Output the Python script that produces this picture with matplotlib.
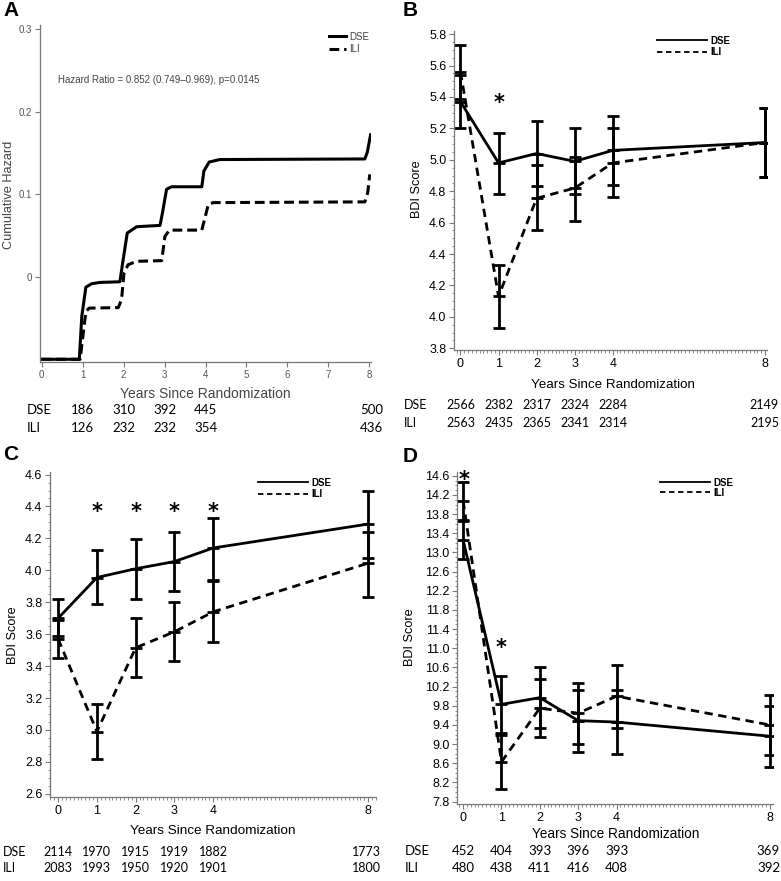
import numpy as np
import matplotlib
matplotlib.use('Agg')
import matplotlib.pyplot as plt
from matplotlib.lines import Line2D
from matplotlib.ticker import MultipleLocator, FixedLocator, AutoMinorLocator, FormatStrFormatter

# ---------------- data ----------------
years = [0, 1, 2, 3, 4, 8]

# Panel A: cumulative hazard curves
hazA_dse_x = [0, 0.92, 0.98, 1.08, 1.22, 1.42, 1.91, 1.99, 2.09, 2.32, 2.89, 2.95, 3.05, 3.17,
              3.91, 3.96, 4.09, 4.35, 7.89, 7.95, 8.03]
hazA_dse_y = [-0.100, -0.100, -0.048, -0.0126, -0.0085, -0.0069, -0.0061, 0.0207, 0.053, 0.0606,
              0.0622, 0.0776, 0.106, 0.109, 0.109, 0.128, 0.139, 0.142, 0.1427, 0.151, 0.172]
hazA_ili_x = [0, 0.94, 1.08, 1.16, 1.87, 1.95, 2.01, 2.11, 2.32, 2.93, 3.01, 3.12, 3.91, 4.07,
              4.19, 7.89, 7.96, 8.01]
hazA_ili_y = [-0.100, -0.100, -0.042, -0.038, -0.0374, -0.028, 0.0045, 0.0146, 0.0187, 0.0195,
              0.049, 0.0565, 0.0565, 0.0878, 0.0898, 0.0907, 0.102, 0.124]
hazA_ticks = [0, 0.1, 0.2, 0.3]
hazA_ticklabels = ['0', '0.1', '0.2', '0.3']
hazA_text = 'Hazard Ratio = 0.852 (0.749\u20130.969), p=0.0145'

riskA_years = [1, 2, 3, 4, 8]
riskA_dse = [186, 310, 392, 445, 500]
riskA_ili = [126, 232, 232, 354, 436]

# Panel B
dse_B = [5.37, 4.98, 5.04, 4.99, 5.06, 5.11]
dse_B_lo = [5.20, 4.78, 4.83, 4.78, 4.84, 4.89]
dse_B_hi = [5.54, 5.17, 5.25, 5.20, 5.28, 5.33]
ili_B = [5.56, 4.13, 4.755, 4.82, 4.98, 5.11]
ili_B_lo = [5.39, 3.93, 4.55, 4.61, 4.76, 4.89]
ili_B_hi = [5.73, 4.33, 4.97, 5.02, 5.20, 5.33]
star_B_x = [1]
star_B_y = [5.39]
riskB_dse = [2566, 2382, 2317, 2324, 2284, 2149]
riskB_ili = [2563, 2435, 2365, 2341, 2314, 2195]

# Panel C
dse_C = [3.70, 3.955, 4.01, 4.055, 4.14, 4.29]
dse_C_lo = [3.59, 3.79, 3.82, 3.87, 3.94, 4.08]
dse_C_hi = [3.82, 4.125, 4.195, 4.24, 4.33, 4.495]
ili_C = [3.57, 2.99, 3.515, 3.615, 3.74, 4.045]
ili_C_lo = [3.45, 2.82, 3.33, 3.43, 3.55, 3.835]
ili_C_hi = [3.69, 3.16, 3.70, 3.80, 3.935, 4.24]
star_C_x = [1, 2, 3, 4]
star_C_y = [4.39, 4.39, 4.39, 4.39]
riskC_dse = [2114, 1970, 1915, 1919, 1882, 1773]
riskC_ili = [2083, 1993, 1950, 1920, 1901, 1800]

# Panel D
dse_D = [13.26, 9.83, 9.97, 9.49, 9.46, 9.165]
dse_D_lo = [12.86, 9.23, 9.33, 8.84, 8.80, 8.53]
dse_D_hi = [13.66, 10.42, 10.61, 10.14, 10.14, 9.80]
ili_D = [14.08, 8.63, 9.75, 9.645, 10.0, 9.40]
ili_D_lo = [13.68, 8.07, 9.14, 9.01, 9.34, 8.78]
ili_D_hi = [14.48, 9.19, 10.35, 10.28, 10.66, 10.03]
star_D_x = [0.03, 1]
star_D_y = [14.6, 11.1]
riskD_dse = [452, 404, 393, 396, 393, 369]
riskD_ili = [480, 438, 411, 416, 408, 392]

ticks_B = [3.8, 4.0, 4.2, 4.4, 4.6, 4.8, 5.0, 5.2, 5.4, 5.6, 5.8]
ticks_C = [2.6, 2.8, 3.0, 3.2, 3.4, 3.6, 3.8, 4.0, 4.2, 4.4, 4.6]
ticks_D = [7.8, 8.2, 8.6, 9.0, 9.4, 9.8, 10.2, 10.6, 11.0, 11.4, 11.8, 12.2, 12.6, 13.0,
           13.4, 13.8, 14.2, 14.6]

groups = ['DSE', 'ILI']
xlabel = 'Years Since Randomization'

# ---------------- layout helpers ----------------
W, H = 781, 881
fig = plt.figure(figsize=(W / 100, H / 100), dpi=100)
plt.rcParams['font.family'] = ['Liberation Sans', 'DejaVu Sans']
RISKFONT = ['Lato', 'DejaVu Sans']


def ax_at(l, t, r, b):
    return fig.add_axes([l / W, 1 - b / H, (r - l) / W, (b - t) / H])


def ftext(x, y, s, **kw):
    return fig.text(x / W, 1 - y / H, s, **kw)


def style_axis(ax, color, labelcolor, fs):
    for s in ['top', 'right']:
        ax.spines[s].set_visible(False)
    for s in ['left', 'bottom']:
        ax.spines[s].set_color(color)
        ax.spines[s].set_linewidth(0.9)
    ax.tick_params(which='major', direction='out', length=3.5, width=0.8, color=color,
                   labelcolor=labelcolor, labelsize=fs, pad=2)
    ax.tick_params(which='minor', direction='out', length=1.8, width=0.6, color=color)


# ---------------- Panel A ----------------
axA = ax_at(40, 25, 371, 362)
axA.plot(hazA_dse_x, hazA_dse_y, color='black', lw=2.2, solid_joinstyle='round')
axA.plot(hazA_ili_x, hazA_ili_y, color='black', lw=2.2, dashes=(3.2, 1.6))
axA.set_xlim(-0.04, 8.04)
axA.set_ylim(-0.1033, 0.305)
axA.xaxis.set_major_locator(MultipleLocator(1))
axA.yaxis.set_major_locator(FixedLocator(hazA_ticks))
axA.set_yticklabels(hazA_ticklabels)
style_axis(axA, '#777777', '#555555', 7)
axA.text(0.053, 0.836, hazA_text, transform=axA.transAxes, fontsize=7, color='#444444',
         va='center', ha='left')
legA = [Line2D([0], [0], color='black', lw=2.2),
        Line2D([0], [0], color='black', lw=2.2, dashes=(3.2, 1.6))]
axA.legend(legA, groups, loc='upper left', bbox_to_anchor=((324 - 40) / 331, 1.0 - (27 - 25) / 337),
           frameon=False, fontsize=7, handlelength=1.8, handletextpad=0.3, labelspacing=0.25,
           borderpad=0, labelcolor='#444444')
ftext(9, 195, 'Cumulative Hazard', rotation=90, ha='center', va='center', fontsize=9.2, color='#444444')
ftext(205, 394, xlabel, ha='center', va='center', fontsize=10, color='#444444')

ftext(3, 10, 'A', fontsize=15, fontweight='bold', ha='left', va='center')
ftext(403, 10, 'B', fontsize=15, fontweight='bold', ha='left', va='center')
ftext(3, 454, 'C', fontsize=15, fontweight='bold', ha='left', va='center')
ftext(403, 457, 'D', fontsize=15, fontweight='bold', ha='left', va='center')


def risk_table(ax, xs, dse, ili, y1, y2, xlab, fs, right_edge):
    ftext(xlab, y1, 'DSE', fontsize=fs, family=RISKFONT, ha='left', va='center')
    ftext(xlab, y2, 'ILI', fontsize=fs, family=RISKFONT, ha='left', va='center')
    for x, a, b in zip(xs, dse, ili):
        px = ax.transData.transform((x, 0))[0] / fig.dpi * 100
        ha = 'center'
        if x == 8:
            ha = 'right'
            px = right_edge
        ftext(px, y1, str(a), fontsize=fs, family=RISKFONT, ha=ha, va='center')
        ftext(px, y2, str(b), fontsize=fs, family=RISKFONT, ha=ha, va='center')


fig.canvas.draw()
risk_table(axA, riskA_years, riskA_dse, riskA_ili, 410, 428, 27, 9.5, 383)


# ---------------- Panels B, C, D ----------------
def bdi_panel(ax, dse, dlo, dhi, ili, ilo, ihi, sx, sy, ylim, xlim, yticks):
    ax.plot(years, ili, color='black', lw=2, dashes=(3, 2))
    ax.plot(years, dse, color='black', lw=2)
    for m, lo, hi in [(dse, dlo, dhi), (ili, ilo, ihi)]:
        m = np.asarray(m)
        err = [m - np.asarray(lo), np.asarray(hi) - m]
        ax.errorbar(years, m, yerr=err, fmt='none', ecolor='black', elinewidth=2,
                    capsize=4.3, capthick=2)
        ax.plot(years, m, ls='none', marker='_', ms=8.6, mew=2, color='black')
    for x, y in zip(sx, sy):
        ax.annotate('*', (x, y), xytext=(0, -3), textcoords='offset points', fontsize=15,
                    fontweight='bold', ha='center', va='center', family='DejaVu Sans')
    ax.set_xlim(*xlim)
    ax.set_ylim(*ylim)
    ax.xaxis.set_major_locator(FixedLocator(years))
    ax.xaxis.set_minor_locator(MultipleLocator(0.1))
    ax.yaxis.set_major_locator(FixedLocator(yticks))
    ax.yaxis.set_minor_locator(AutoMinorLocator(4))
    ax.yaxis.set_major_formatter(FormatStrFormatter('%.1f'))
    style_axis(ax, '#777777', 'black', 9)
    leg = [Line2D([0], [0], color='black', lw=1.3),
           Line2D([0], [0], color='black', lw=1.3, dashes=(3, 2))]
    return leg


axB = ax_at(454, 31, 767, 350)
legB = bdi_panel(axB, dse_B, dse_B_lo, dse_B_hi, ili_B, ili_B_lo, ili_B_hi, star_B_x, star_B_y,
                 (3.789, 5.82), (-0.17, 8.05), ticks_B)
axB.legend(legB, groups, loc='upper left', bbox_to_anchor=((652 - 454) / 313, 1.0),
           frameon=False, prop={'weight': 'bold', 'size': 7}, handlelength=5.2,
           handletextpad=0.3, labelspacing=0.15, borderpad=0)
ftext(417, 189, 'BDI Score', rotation=90, ha='center', va='center', fontsize=9.2)
ftext(613, 385, xlabel, ha='center', va='center', fontsize=9.6)

axC = ax_at(50, 472, 376, 797)
legC = bdi_panel(axC, dse_C, dse_C_lo, dse_C_hi, ili_C, ili_C_lo, ili_C_hi, star_C_x, star_C_y,
                 (2.58, 4.616), (-0.21, 8.2), ticks_C)
axC.legend(legC, groups, loc='upper left', bbox_to_anchor=((253 - 50) / 326, 1 - 1 / 325),
           frameon=False, prop={'weight': 'bold', 'size': 7}, handlelength=5.2,
           handletextpad=0.3, labelspacing=0.15, borderpad=0)
ftext(13, 635, 'BDI Score', rotation=90, ha='center', va='center', fontsize=9.2)
ftext(213, 831, xlabel, ha='center', va='center', fontsize=9.7)

axD = ax_at(457, 472, 773, 804)
legD = bdi_panel(axD, dse_D, dse_D_lo, dse_D_hi, ili_D, ili_D_lo, ili_D_hi, star_D_x, star_D_y,
                 (7.75, 14.68), (-0.16, 8.08), ticks_D)
axD.legend(legD, groups, loc='upper left', bbox_to_anchor=((655 - 457) / 316, 1 - 1 / 332),
           frameon=False, prop={'weight': 'bold', 'size': 7}, handlelength=5.2,
           handletextpad=0.3, labelspacing=0.0, borderpad=0)
ftext(410, 637, 'BDI Score', rotation=90, ha='center', va='center', fontsize=9.2)
ftext(616, 834, xlabel, ha='center', va='center', fontsize=9.8)

fig.canvas.draw()
risk_table(axB, years, riskB_dse, riskB_ili, 405, 423, 404, 9, W - 2)
risk_table(axC, years, riskC_dse, riskC_ili, 852, 868, 3, 9, 381)
risk_table(axD, years, riskD_dse, riskD_ili, 851, 868, 405, 9.5, W - 1)

fig.savefig('out.png', dpi=100)
